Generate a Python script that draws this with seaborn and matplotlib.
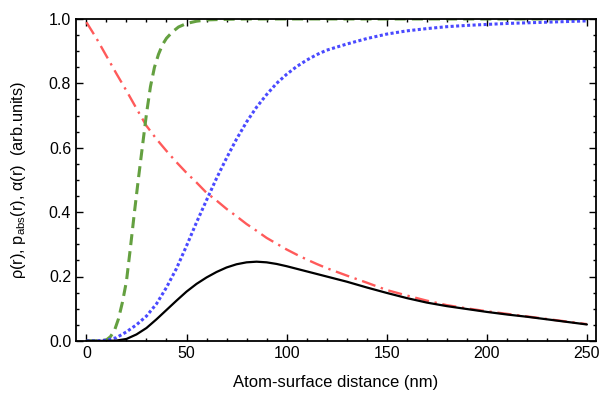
import numpy as np
import pandas as pd
import matplotlib
matplotlib.use('Agg')
import matplotlib.pyplot as plt
import seaborn as sns
from matplotlib.ticker import MultipleLocator

# ─── DATA ────────────────────────────────────────────────────────────────────
# red dash-dot, decays from 1
r_alpha = [0, 5, 10, 15, 20, 25, 30, 35, 40, 45, 50, 55, 60, 65, 70, 75, 80,
           85, 90, 95, 100, 105, 110, 115, 120, 130, 140, 150, 160, 170, 180,
           190, 200, 210, 220, 230, 240, 250]
alpha = [0.99, 0.94, 0.885, 0.83, 0.777, 0.722, 0.668, 0.627, 0.59, 0.555,
         0.522, 0.492, 0.46, 0.436, 0.41, 0.387, 0.363, 0.342, 0.32, 0.302,
         0.284, 0.268, 0.253, 0.239, 0.226, 0.203, 0.181, 0.158, 0.141, 0.125,
         0.111, 0.101, 0.092, 0.084, 0.076, 0.068, 0.06, 0.052]

# green dashed, steep rise
r_surf = [0, 5, 10, 12, 14, 16, 18, 20, 22, 24, 26, 28, 30, 32, 34, 36, 38,
          40, 43, 46, 50, 55, 60, 70, 80, 100, 150, 200, 250]
p_surf = [0.0, 0.0, 0.003, 0.013, 0.032, 0.068, 0.12, 0.185, 0.29, 0.40,
          0.505, 0.605, 0.705, 0.79, 0.85, 0.89, 0.92, 0.94, 0.96, 0.975,
          0.986, 0.993, 0.997, 0.999, 1.0, 1.0, 1.0, 1.0, 1.0]

# blue dotted, slow rise
r_abs = [0, 5, 10, 15, 20, 25, 30, 35, 40, 45, 50, 55, 60, 65, 70, 75, 80,
         85, 90, 95, 100, 105, 110, 115, 120, 130, 140, 150, 160, 170, 180,
         190, 200, 210, 220, 230, 240, 250]
p_abs = [0.0, 0.0, 0.002, 0.01, 0.028, 0.05, 0.077, 0.115, 0.166, 0.225,
         0.295, 0.368, 0.437, 0.505, 0.568, 0.627, 0.68, 0.726, 0.765, 0.8,
         0.828, 0.852, 0.872, 0.889, 0.903, 0.922, 0.939, 0.953, 0.963, 0.97,
         0.976, 0.98, 0.983, 0.986, 0.988, 0.99, 0.992, 0.994]

# black solid, hump
r_rho = [0, 5, 10, 15, 20, 25, 30, 35, 40, 45, 50, 55, 60, 65, 70, 75, 80,
         85, 90, 95, 100, 105, 110, 115, 120, 130, 140, 150, 160, 170, 180,
         190, 200, 210, 220, 230, 240, 250]
rho = [0.0, 0.0, 0.0, 0.001, 0.006, 0.02, 0.04, 0.067, 0.096, 0.125, 0.153,
       0.177, 0.197, 0.214, 0.228, 0.238, 0.244, 0.246, 0.244, 0.239, 0.232,
       0.224, 0.216, 0.208, 0.2, 0.184, 0.166, 0.149, 0.133, 0.119, 0.108,
       0.099, 0.09, 0.082, 0.075, 0.067, 0.059, 0.051]

XTICKS = [0, 50, 100, 150, 200, 250]
YTICKS = [0.0, 0.2, 0.4, 0.6, 0.8, 1.0]

# ─── STYLE ───────────────────────────────────────────────────────────────────
sns.set_style('ticks')
plt.rcParams['font.family'] = ['Liberation Sans', 'DejaVu Sans']
plt.rcParams['mathtext.fontset'] = 'custom'
plt.rcParams['mathtext.rm'] = 'Liberation Sans'
plt.rcParams['mathtext.it'] = 'Liberation Sans:italic'

fig, ax = plt.subplots(figsize=(6.05, 3.95), dpi=100)
fig.subplots_adjust(left=0.1256, right=0.985, bottom=0.137, top=0.952)

curves = [
    (r_alpha, alpha, '#ff5a5a', 1.7, (0, (6.0, 2.4, 1.0, 2.4))),
    (r_surf, p_surf, '#64a040', 2.2, (0, (3.6, 2.0))),
    (r_abs, p_abs, '#4a4aff', 2.2, (0, (1.0, 0.8))),
    (r_rho, rho, 'black', 1.6, '-'),
]
for xs, ys, col, lw, ls in curves:
    df = pd.DataFrame({'r': xs, 'v': ys})
    sns.lineplot(data=df, x='r', y='v', color=col, lw=lw, ax=ax)
    ax.lines[-1].set_linestyle(ls)
    ax.lines[-1].set_dash_capstyle('butt')

ax.set_xlim(-5.2, 254.5)
ax.set_ylim(0, 1)
ax.set_xticks(XTICKS)
ax.set_yticks(YTICKS)
ax.set_yticklabels([f'{t:.1f}' for t in YTICKS])
ax.xaxis.set_minor_locator(MultipleLocator(10))
ax.yaxis.set_minor_locator(MultipleLocator(0.05))
ax.tick_params(which='both', direction='in', top=True, right=True,
               color='black', width=1.0, labelsize=11.5, labelcolor='black')
ax.tick_params(which='major', length=5)
ax.tick_params(which='minor', length=2.5)
for sp in ax.spines.values():
    sp.set_color('black')
    sp.set_linewidth(1.3)

ax.set_xlabel('Atom-surface distance (nm)', fontsize=12, color='black',
              labelpad=10)
ax.set_ylabel('ρ(r), p$_{\\rm abs}$(r), α(r)  (arb.units)', fontsize=11.8,
              color='black', labelpad=15)

fig.savefig('out.png', dpi=100)
